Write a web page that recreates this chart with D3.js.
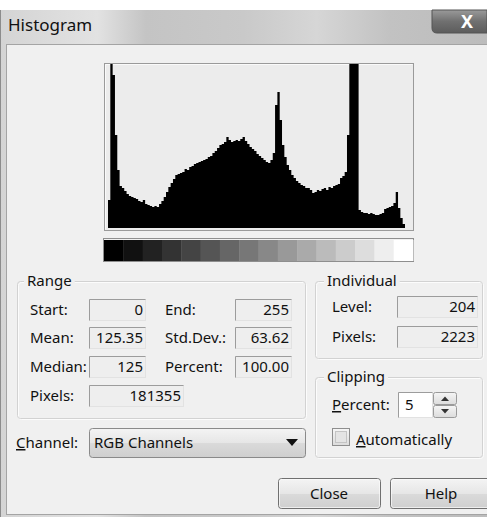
<!DOCTYPE html>
<html>
<head>
<meta charset="utf-8">
<script src="https://cdn.jsdelivr.net/npm/d3@7"></script>
<style>
  body { margin: 0; background: #fff; }
  text { font-family: "Noto Sans", sans-serif; font-size: 15px; fill: #111; }
</style>
</head>
<body>
<svg id="chart" width="487" height="517"></svg>
<script>
// pixel counts, one value per pair of levels (0-1, 2-3, ... 254-255)
var levelPairCounts = [
  342, 2600, 1867, 1135, 708, 512, 488, 451, 415, 390,
  378, 366, 354, 329, 317, 342, 293, 281, 268, 256,
  268, 256, 293, 329, 378, 439, 500, 549, 598, 647,
  659, 671, 683, 720, 708, 744, 756, 781, 793, 805,
  817, 830, 842, 866, 878, 915, 939, 976, 1013, 1025,
  1049, 1110, 1074, 1049, 1061, 1074, 1061, 1086, 1110, 1061,
  1025, 988, 964, 939, 903, 878, 854, 830, 805, 793,
  830, 915, 1500, 1659, 1318, 1013, 866, 769, 708, 647,
  610, 573, 549, 525, 512, 488, 488, 464, 427, 439,
  464, 451, 476, 488, 464, 500, 488, 512, 525, 537,
  610, 634, 683, 1135, 2600, 2600, 2600, 2600, 220, 195,
  183, 183, 171, 183, 171, 159, 159, 171, 183, 232,
  244, 256, 268, 305, 439, 244, 122, 49
];
var levelCount = 256;
var rampSteps = 16;

var rangeLabelsLeft = ["Start:", "Mean:", "Median:", "Pixels:"];
var rangeValuesLeft = ["0", "125.35", "125", "181355"];
var rangeLabelsRight = ["End:", "Std.Dev.:", "Percent:"];
var rangeValuesRight = ["255", "63.62", "100.00"];
var individualLabels = ["Level:", "Pixels:"];
var individualValues = ["204", "2223"];
var clippingPercent = "5";
var channelName = "RGB Channels";
var buttonLabels = ["Close", "Help"];

var bg = "#f0f0f0";
var svg = d3.select("#chart");
var defs = svg.append("defs");

function vGrad(id, stops) {
    var g = defs.append("linearGradient").attr("id", id)
        .attr("x1", 0).attr("y1", 0).attr("x2", 0).attr("y2", 1);
    stops.forEach(function (s) {
        g.append("stop").attr("offset", s[0]).attr("stop-color", s[1]);
    });
}
var tg = defs.append("linearGradient").attr("id", "titleGrad")
    .attr("x1", 0).attr("y1", 0).attr("x2", 1).attr("y2", 0);
[[0, "#d4d4d4"], [0.2, "#e2e2e2"], [0.3, "#c4c4c4"], [0.5, "#c9c9c9"],
 [0.65, "#d6d6d6"], [0.8, "#c2c2c2"], [1, "#bcbcbc"]].forEach(function (s) {
    tg.append("stop").attr("offset", s[0]).attr("stop-color", s[1]);
});
vGrad("xGrad", [[0, "#9a9a9a"], [0.5, "#707070"], [1, "#5c5c5c"]]);
vGrad("btnGrad", [[0, "#f4f4f4"], [0.5, "#e6e6e6"], [0.51, "#dadada"], [1, "#cfcfcf"]]);
vGrad("spinGrad", [[0, "#f6f6f6"], [1, "#dcdcdc"]]);

// window frame + title bar
svg.append("rect").attr("x", 0).attr("y", 10).attr("width", 487).attr("height", 507)
    .attr("fill", "url(#titleGrad)");
svg.append("line").attr("x1", 0.5).attr("x2", 0.5).attr("y1", 10).attr("y2", 517)
    .attr("stroke", "#8c8c8c");
svg.append("text").attr("x", 8).attr("y", 31).style("font-size", "17px").text("Histogram");

// close button
svg.append("path")
    .attr("d", "M432,10 H487 V33 H437 Q432,33 432,28 Z")
    .attr("fill", "url(#xGrad)").attr("stroke", "#555");
svg.append("text").attr("x", 467).attr("y", 28).attr("text-anchor", "middle")
    .style("font-size", "18px").style("font-weight", "bold").style("fill", "#fff")
    .text("X");

// client area
svg.append("rect").attr("x", 6.5).attr("y", 44.5).attr("width", 490).attr("height", 470)
    .attr("fill", bg).attr("stroke", "#a4a4a4");

// histogram plot
var plot = { left: 104, top: 63, right: 413, bottom: 230 };
svg.append("rect").attr("x", plot.left + 0.5).attr("y", plot.top + 0.5)
    .attr("width", plot.right - plot.left).attr("height", plot.bottom - plot.top)
    .attr("fill", "#ececec").attr("stroke", "#9a9a9a");
svg.append("path")
    .attr("d", "M" + (plot.left + 1.5) + "," + (plot.bottom - 0.5) + "V" + (plot.top + 1.5) + "H" + (plot.right - 0.5))
    .attr("fill", "none").attr("stroke", "#fafafa");

var xs = d3.scaleLinear().domain([0, levelCount]).range([108, 405]);
var ys = d3.scaleLinear().domain([0, 2000]).range([228, 64]).clamp(true);

// one step per pair of levels; the closing point ends the last step at level 256
var steps = levelPairCounts.map(function (d, i) { return { level: i * 2, count: d }; });
steps.push({ level: levelCount, count: levelPairCounts[levelPairCounts.length - 1] });

var area = d3.area()
    .x(function (d) { return xs(d.level); })
    .y0(ys(0))
    .y1(function (d) { return ys(d.count); })
    .curve(d3.curveStepAfter);

svg.append("path").datum(steps).attr("d", area).attr("fill", "#000");

// gray ramp
var rampX = d3.scaleLinear().domain([0, rampSteps]).range([104, 413]);
svg.append("rect").attr("x", 103.5).attr("y", 238.5).attr("width", 310).attr("height", 23)
    .attr("fill", "none").attr("stroke", "#8e8e8e");
svg.append("g").selectAll("rect")
    .data(d3.range(rampSteps))
    .join("rect")
    .attr("x", function (d) { return rampX(d); })
    .attr("width", function (d) { return rampX(d + 1) - rampX(d) + 0.4; })
    .attr("y", 240).attr("height", 21)
    .attr("fill", function (d) { var v = Math.round(d * 255 / (rampSteps - 1)); return d3.rgb(v, v, v); });

// helpers
function groupBox(x, y, w, h, title, tx, baseline) {
    svg.append("rect").attr("x", x + 1.5).attr("y", y + 1.5).attr("width", w).attr("height", h)
        .attr("rx", 3).attr("fill", "none").attr("stroke", "#fcfcfc");
    svg.append("rect").attr("x", x + 0.5).attr("y", y + 0.5).attr("width", w).attr("height", h)
        .attr("rx", 3).attr("fill", "none").attr("stroke", "#d2d2d2");
    var t = svg.append("text").attr("x", tx).attr("y", baseline).text(title);
    var bb = t.node().getBBox();
    svg.insert("rect", function () { return t.node(); })
        .attr("x", bb.x - 3).attr("y", y - 3).attr("width", bb.width + 6).attr("height", 8)
        .attr("fill", bg);
}

function field(x, y, w, h, value, fill) {
    svg.append("rect").attr("x", x + 0.5).attr("y", y + 0.5).attr("width", w).attr("height", h)
        .attr("fill", fill || "#eeeeee").attr("stroke", "#e2e2e2");
    svg.append("path").attr("d", "M" + (x + 0.5) + "," + (y + h + 0.5) + "V" + (y + 0.5) + "H" + (x + w + 0.5))
        .attr("fill", "none").attr("stroke", "#9c9c9c");
    if (value !== undefined) {
        svg.append("text").attr("x", x + w - 2).attr("y", y + h - 5)
            .attr("text-anchor", "end").text(value);
    }
}

function underlined(x, y, first, rest) {
    var t = svg.append("text").attr("x", x).attr("y", y);
    t.append("tspan").style("text-decoration", "underline").text(first);
    t.append("tspan").text(rest);
}

// Range group
groupBox(17, 281, 288, 137, "Range", 27, 286);
var rowTops = [299, 327, 356, 385];
rangeLabelsLeft.forEach(function (lab, i) {
    svg.append("text").attr("x", 30).attr("y", rowTops[i] + 16).text(lab);
    var w = i === 3 ? 94 : 56;
    field(89, rowTops[i], w, 21, rangeValuesLeft[i]);
});
rangeLabelsRight.forEach(function (lab, i) {
    svg.append("text").attr("x", 165).attr("y", rowTops[i] + 16).text(lab);
    field(235, rowTops[i], 56, 21, rangeValuesRight[i]);
});

// Individual group
groupBox(315, 281, 167, 77, "Individual", 327, 286);
var indTops = [296, 326];
individualLabels.forEach(function (lab, i) {
    svg.append("text").attr("x", 332).attr("y", indTops[i] + 16).text(lab);
    field(397, indTops[i], 80, 21, individualValues[i]);
});

// Clipping group
groupBox(315, 377, 167, 80, "Clipping", 327, 382);
underlined(332, 410, "P", "ercent:");
field(398, 392, 34, 25, undefined, "#ffffff");
svg.append("text").attr("x", 405).attr("y", 410).text(clippingPercent);
svg.append("rect").attr("x", 433.5).attr("y", 392.5).attr("width", 23).attr("height", 12)
    .attr("rx", 2).attr("fill", "url(#spinGrad)").attr("stroke", "#9a9a9a");
svg.append("rect").attr("x", 433.5).attr("y", 405.5).attr("width", 23).attr("height", 12)
    .attr("rx", 2).attr("fill", "url(#spinGrad)").attr("stroke", "#9a9a9a");
svg.append("path").attr("d", "M441,401 L445,396.5 L449,401 Z").attr("fill", "#333");
svg.append("path").attr("d", "M441,409 L449,409 L445,413.5 Z").attr("fill", "#333");

// Automatically checkbox
svg.append("rect").attr("x", 332.5).attr("y", 428.5).attr("width", 17).attr("height", 17)
    .attr("fill", "url(#spinGrad)").attr("stroke", "#8e8e8e");
svg.append("rect").attr("x", 335.5).attr("y", 431.5).attr("width", 11).attr("height", 11)
    .attr("fill", "#e4e4e4").attr("stroke", "#c4c4c4");
underlined(356, 445, "A", "utomatically");

// Channel dropdown
underlined(16, 448, "C", "hannel:");
svg.append("rect").attr("x", 89.5).attr("y", 428.5).attr("width", 216).attr("height", 29)
    .attr("rx", 3).attr("fill", "url(#btnGrad)").attr("stroke", "#8a8a8a");
svg.append("text").attr("x", 94).attr("y", 448).text(channelName);
svg.append("path").attr("d", "M286,439 L298,439 L292,446 Z").attr("fill", "#111");

// buttons
var btnX = [278, 390];
buttonLabels.forEach(function (lab, i) {
    svg.append("rect").attr("x", btnX[i] + 0.5).attr("y", 478.5).attr("width", 102).attr("height", 30)
        .attr("rx", 3).attr("fill", "url(#btnGrad)").attr("stroke", "#707070");
    svg.append("rect").attr("x", btnX[i] + 1.5).attr("y", 479.5).attr("width", 100).attr("height", 28)
        .attr("rx", 2).attr("fill", "none").attr("stroke", "#fbfbfb").attr("stroke-opacity", 0.7);
    svg.append("text").attr("x", btnX[i] + 51).attr("y", 499).attr("text-anchor", "middle").text(lab);
});
</script>
</body>
</html>
